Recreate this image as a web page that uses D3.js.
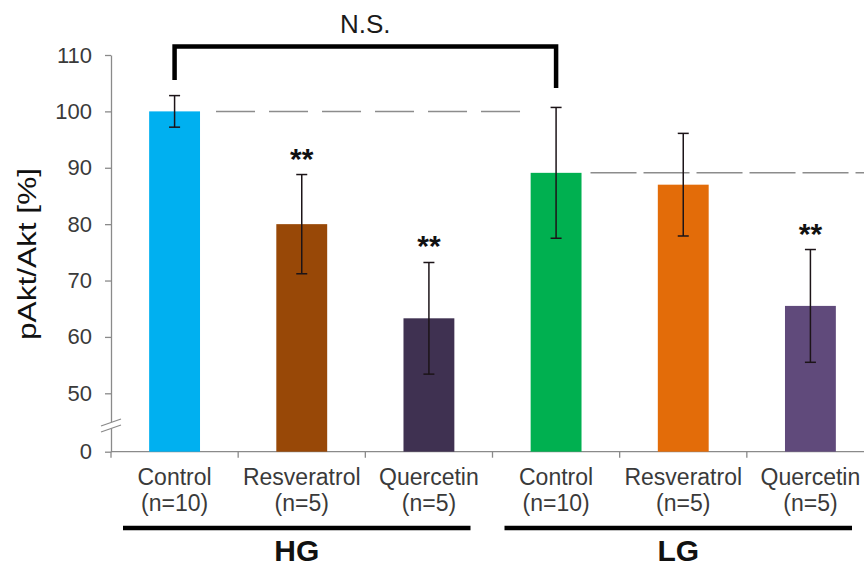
<!DOCTYPE html>
<html>
<head>
<meta charset="utf-8">
<script src="https://cdn.jsdelivr.net/npm/d3@7"></script>
<style>
  html, body { margin: 0; padding: 0; background: #fff; }
  svg { display: block; font-family: "Liberation Sans", Arial, sans-serif; }
</style>
</head>
<body>
<svg id="chart" width="864" height="568"></svg>
<script>
// pAkt/Akt ratio per treatment group, HG vs LG
const ids       = ["hgCtl", "hgRes", "hgQue", "lgCtl", "lgRes", "lgQue"];
const names     = ["Control", "Resveratrol", "Quercetin", "Control", "Resveratrol", "Quercetin"];
const counts    = ["(n=10)", "(n=5)", "(n=5)", "(n=10)", "(n=5)", "(n=5)"];
const values    = [100, 80.0, 63.3, 89.1, 87.0, 65.5];
const errors    = [2.8, 8.8, 9.9, 11.6, 9.1, 10.0];
const colors    = ["#00B0F0", "#984807", "#3F3151", "#00B050", "#E36C09", "#604A7B"];
const signif    = ["", "**", "**", "", "", "**"];
const yTicks    = [0, 50, 60, 70, 80, 90, 100, 110];
const groups    = ["HG", "LG"];
const groupIdx  = [[0, 2], [3, 5]];

const svg = d3.select("#chart");

// Broken axis: 0 sits just below the 50–110 window
const y = d3.scaleLinear().domain([0, 50, 110]).range([451.7, 393.3, 55]);
const x = d3.scaleBand().domain(ids).range([111, 874]).paddingInner(0.6).paddingOuter(0.3);
const step = x.step(), bw = x.bandwidth();
const slotLeft = id => x(id) - (step - bw) / 2;
const axisColor = "#8a8a8a";

// Y axis
const yAxis = svg.append("g")
  .attr("transform", "translate(111,0)")
  .call(d3.axisLeft(y).tickValues(yTicks).tickSize(6).tickPadding(13).tickSizeOuter(0));
yAxis.select(".domain").attr("stroke", axisColor).attr("stroke-width", 1.3);
yAxis.selectAll(".tick line").attr("stroke", axisColor).attr("stroke-width", 1.3);
yAxis.selectAll(".tick text")
  .attr("fill", "#3a3a3a")
  .style("font-size", "22px")
  .style("font-family", "'Liberation Sans', Arial, sans-serif");

// Axis break marks between 0 and 50
const brk = svg.append("g");
brk.append("polygon")
  .attr("points", "101,426 121,419 121,425 101,432")
  .attr("fill", "#fff");
[0, 6].forEach(d => {
  brk.append("line")
    .attr("x1", 101).attr("y1", 426 + d).attr("x2", 121).attr("y2", 419 + d)
    .attr("stroke", axisColor).attr("stroke-width", 1.3);
});

// X axis line and category boundary ticks
svg.append("line")
  .attr("x1", 111).attr("x2", 864).attr("y1", y(0)).attr("y2", y(0))
  .attr("stroke", axisColor).attr("stroke-width", 1.3);
svg.selectAll("line.xtick").data(ids).join("line")
  .attr("class", "xtick")
  .attr("x1", d => slotLeft(d)).attr("x2", d => slotLeft(d))
  .attr("y1", y(0)).attr("y2", y(0) + 6)
  .attr("stroke", axisColor).attr("stroke-width", 1.3);

// Dashed reference levels (HG control, LG control)
svg.append("line")
  .attr("x1", x("hgCtl") + bw + 16).attr("x2", x("lgCtl") - 1)
  .attr("y1", y(values[0])).attr("y2", y(values[0]))
  .attr("stroke", "#8c8c8c").attr("stroke-width", 1.5)
  .attr("stroke-dasharray", "39,14");
svg.append("line")
  .attr("x1", x("lgCtl") + bw + 9).attr("x2", 864)
  .attr("y1", y(values[3])).attr("y2", y(values[3]))
  .attr("stroke", "#8c8c8c").attr("stroke-width", 1.5)
  .attr("stroke-dasharray", "46,7");

// Bars
svg.selectAll("rect.bar").data(ids).join("rect")
  .attr("class", "bar")
  .attr("x", d => x(d))
  .attr("width", bw)
  .attr("y", (d, i) => y(values[i]))
  .attr("height", (d, i) => y(0) - y(values[i]))
  .attr("fill", (d, i) => colors[i]);

// Error bars
const eb = svg.selectAll("g.err").data(ids).join("g").attr("class", "err")
  .attr("transform", d => `translate(${x(d) + bw / 2},0)`);
eb.append("line")
  .attr("y1", (d, i) => y(values[i] + errors[i]))
  .attr("y2", (d, i) => y(values[i] - errors[i]))
  .attr("stroke", "#1c1418").attr("stroke-width", 1.5);
[1, -1].forEach(s => {
  eb.append("line")
    .attr("x1", -5.5).attr("x2", 5.5)
    .attr("y1", (d, i) => y(values[i] + s * errors[i]))
    .attr("y2", (d, i) => y(values[i] + s * errors[i]))
    .attr("stroke", "#1c1418").attr("stroke-width", 1.5);
});

// Significance marks
svg.selectAll("text.sig").data(ids).join("text")
  .attr("class", "sig")
  .attr("x", d => x(d) + bw / 2)
  .attr("y", (d, i) => y(values[i] + errors[i]) - 6)
  .attr("text-anchor", "middle")
  .style("font-size", "30px").style("font-weight", "bold")
  .attr("fill", "#111")
  .text((d, i) => signif[i]);

// Bracket comparing the two controls
const bx1 = x("hgCtl") + bw / 2, bx2 = x("lgCtl") + bw / 2, by = 46.5;
svg.append("path")
  .attr("d", `M${bx1},80 L${bx1},${by} L${bx2},${by} L${bx2},88`)
  .attr("fill", "none").attr("stroke", "#000").attr("stroke-width", 4.5)
  .attr("stroke-linejoin", "miter");
svg.append("text")
  .attr("x", (bx1 + bx2) / 2).attr("y", 33)
  .attr("text-anchor", "middle")
  .style("font-size", "26px")
  .attr("fill", "#1a1a1a")
  .text("N.S.");

// Category labels
const lab = svg.selectAll("g.lab").data(ids).join("g").attr("class", "lab")
  .attr("transform", d => `translate(${x(d) + bw / 2},0)`);
lab.append("text").attr("y", 485).attr("text-anchor", "middle")
  .style("font-size", "23px").attr("fill", "#3a3a3a")
  .text((d, i) => names[i]);
lab.append("text").attr("y", 511).attr("text-anchor", "middle")
  .style("font-size", "23px").attr("fill", "#3a3a3a")
  .text((d, i) => counts[i]);

// Group underlines and names
groups.forEach((g, k) => {
  const [a, b] = groupIdx[k];
  const gx1 = slotLeft(ids[a]) + 12, gx2 = slotLeft(ids[b]) + step - 22;
  svg.append("line")
    .attr("x1", gx1).attr("x2", gx2).attr("y1", 528).attr("y2", 528)
    .attr("stroke", "#000").attr("stroke-width", 4.5);
  svg.append("text")
    .attr("x", (gx1 + gx2) / 2).attr("y", 561)
    .attr("text-anchor", "middle")
    .style("font-size", "30px").style("font-weight", "bold")
    .attr("fill", "#111")
    .text(g);
});

// Y axis title
svg.append("text")
  .attr("transform", "translate(36,254) rotate(-90)")
  .attr("text-anchor", "middle")
  .style("font-size", "26px")
  .attr("fill", "#111")
  .attr("textLength", 172).attr("lengthAdjust", "spacingAndGlyphs")
  .text("pAkt/Akt [%]");
</script>
</body>
</html>
